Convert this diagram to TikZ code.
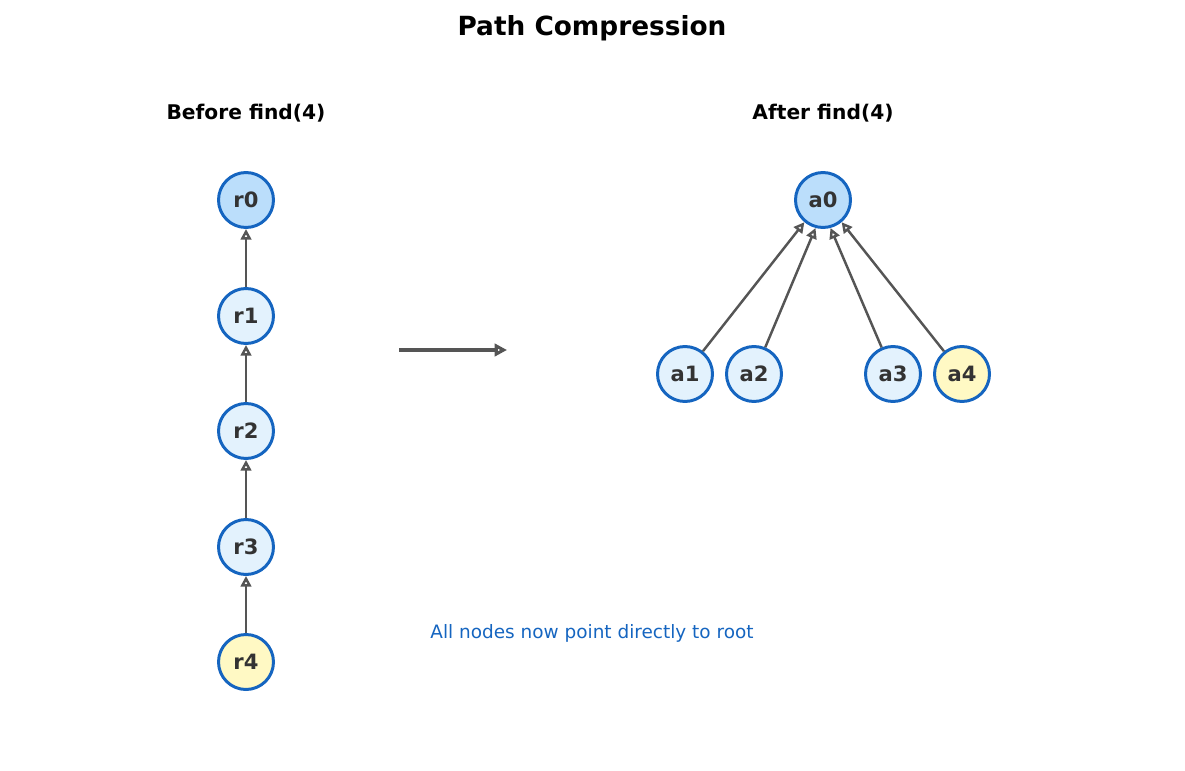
\documentclass[tikz,border=0pt]{standalone}
\usepackage{fontspec}
\setmainfont{DejaVu Sans}
\usetikzlibrary{arrows.meta}

\definecolor{ringblue}{HTML}{1565C0}
\definecolor{rootfill}{HTML}{BBDEFB}
\definecolor{nodefill}{HTML}{E3F2FD}
\definecolor{findfill}{HTML}{FFF9C4}
\definecolor{linkgray}{HTML}{555555}
\definecolor{labeltext}{HTML}{333333}

\tikzset{
  elem/.style={circle, draw=ringblue, line width=1.7pt, fill=nodefill,
    minimum size=1.1cm, inner sep=0pt, text=labeltext,
    font=\fontsize{12}{14}\selectfont\bfseries},
  root/.style={elem, fill=rootfill},
  found/.style={elem, fill=findfill},
  link/.style={draw=linkgray, line width=1.4pt, -{Stealth[length=6pt, width=6pt, inset=0pt, open]}},
}

\begin{document}
\begin{tikzpicture}[x=0.02cm, y=-0.02cm]
\useasboundingbox (0,0) rectangle (1185,770);

\node[font=\fontsize{15}{18}\selectfont\bfseries] (title) at (592,28) {Path Compression};
\node[font=\fontsize{11.5}{14}\selectfont\bfseries] (before) at (246,113) {Before find(4)};
\node[font=\fontsize{11.5}{14}\selectfont\bfseries] (after) at (823,113) {After find(4)};

\node[root] (r0) at (246,200) {r0};
\node[elem] (r1) at (246,316) {r1};
\node[elem] (r2) at (246,431) {r2};
\node[elem] (r3) at (246,547) {r3};
\node[found] (r4) at (246,662) {r4};

\draw[link] (r1) -- (r0);
\draw[link] (r2) -- (r1);
\draw[link] (r3) -- (r2);
\draw[link] (r4) -- (r3);

\coordinate (from) at (399,350);
\coordinate (to) at (507,350);
\draw[draw=linkgray, line width=2.2pt, -{Stealth[length=7pt, width=7pt, inset=0pt, open]}] (from) -- (to);

\node[root] (a0) at (823,200) {a0};
\node[elem] (a1) at (685,374) {a1};
\node[elem] (a2) at (754,374) {a2};
\node[elem] (a3) at (893,374) {a3};
\node[found] (a4) at (962,374) {a4};

\draw[link] (a1) -- (a0.-130);
\draw[link] (a2) -- (a0.-105);
\draw[link] (a3) -- (a0.-75);
\draw[link] (a4) -- (a0.-50);

\node[text=ringblue, font=\fontsize{10.5}{13}\selectfont] (note) at (592,633) {All nodes now point directly to root};
\end{tikzpicture}
\end{document}
